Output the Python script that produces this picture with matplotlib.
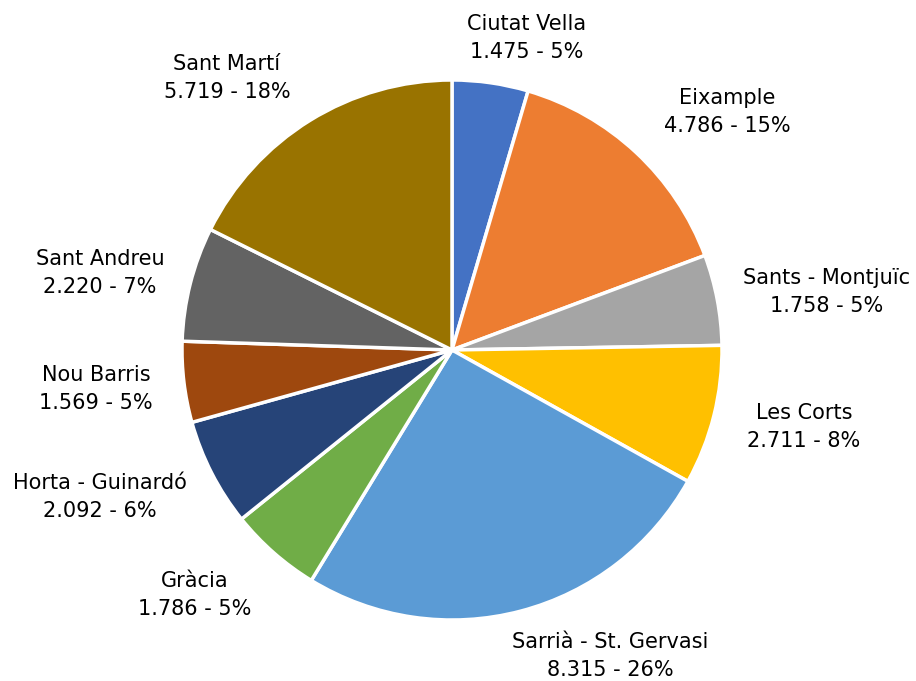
import matplotlib
matplotlib.use('Agg')
import matplotlib.pyplot as plt

districtes = ['Ciutat Vella', 'Eixample', 'Sants - Montjuïc', 'Les Corts',
              'Sarrià - St. Gervasi', 'Gràcia', 'Horta - Guinardó',
              'Nou Barris', 'Sant Andreu', 'Sant Martí']
valors = ['1.475', '4.786', '1.758', '2.711', '8.315', '1.786', '2.092',
          '1.569', '2.220', '5.719']
percent = [5, 15, 5, 8, 26, 5, 6, 5, 7, 18]
colors = ['#4472C4', '#ED7D31', '#A5A5A5', '#FFC000', '#5B9BD5',
          '#70AD47', '#264478', '#9E480E', '#636363', '#997300']

# label centres in pixels (layout only)
label_px = [(527, 38), (727, 112), (827, 292), (804, 427), (610, 656),
            (195, 595), (100, 497), (96, 389), (100, 273), (227, 78)]

W, H = 916, 681
cx, cy, R = 452, 350, 270

fig = plt.figure(figsize=(W / 100, H / 100), dpi=100)
ax = fig.add_axes([0, 0, 1, 1])

sizes = [float(v.replace('.', '')) for v in valors]
ax.pie(sizes, colors=colors, startangle=90, counterclock=False, radius=1,
       wedgeprops=dict(edgecolor='white', linewidth=2.5))

for nom, v, p, (px, py) in zip(districtes, valors, percent, label_px):
    ax.text((px - cx) / R, (cy - py) / R, f"{nom}\n{v} - {p}%",
            ha='center', va='center', fontsize=15, linespacing=1.5,
            color='#000000')

ax.set_xlim(-cx / R, (W - cx) / R)
ax.set_ylim(-(H - cy) / R, cy / R)
ax.set_aspect('equal')
ax.axis('off')

fig.savefig('out.png', dpi=100)
